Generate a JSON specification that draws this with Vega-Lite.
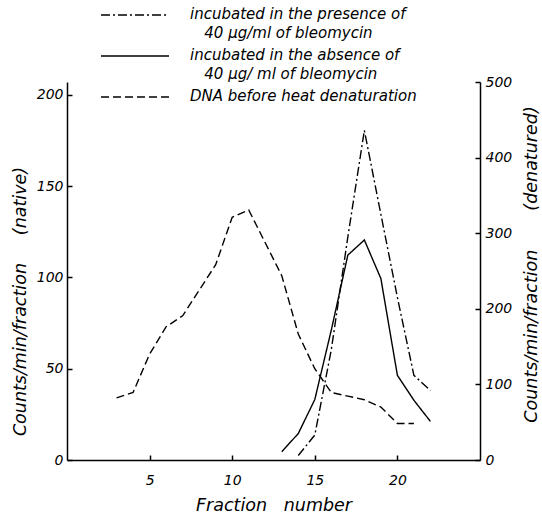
{
  "$schema": "https://vega.github.io/schema/vega-lite/v6.json",
  "width": 413,
  "height": 378,
  "autosize": "none",
  "padding": {"left": 67, "top": 82, "right": 62, "bottom": 57},
  "background": "white",
  "config": {
    "view": {"stroke": null},
    "font": "DejaVu Sans",
    "axis": {
      "domainColor": "black",
      "domainWidth": 1.5,
      "tickColor": "black",
      "tickWidth": 1.5,
      "tickSize": -5,
      "labelColor": "black",
      "labelFont": "DejaVu Sans",
      "labelFontStyle": "italic",
      "labelFontSize": 14,
      "titleColor": "black",
      "titleFont": "DejaVu Sans",
      "titleFontStyle": "italic",
      "titleFontWeight": "normal",
      "titleFontSize": 17.5,
      "grid": false
    }
  },
  "datasets": {
    "native": [
      {"fraction": 3, "count": 34, "series": "DNA before heat denaturation"},
      {"fraction": 4, "count": 37, "series": "DNA before heat denaturation"},
      {"fraction": 5, "count": 58, "series": "DNA before heat denaturation"},
      {"fraction": 6, "count": 73, "series": "DNA before heat denaturation"},
      {"fraction": 7, "count": 79, "series": "DNA before heat denaturation"},
      {"fraction": 8, "count": 93, "series": "DNA before heat denaturation"},
      {"fraction": 9, "count": 107, "series": "DNA before heat denaturation"},
      {"fraction": 10, "count": 133, "series": "DNA before heat denaturation"},
      {"fraction": 11, "count": 137, "series": "DNA before heat denaturation"},
      {"fraction": 12, "count": 119, "series": "DNA before heat denaturation"},
      {"fraction": 13, "count": 101, "series": "DNA before heat denaturation"},
      {"fraction": 14, "count": 69, "series": "DNA before heat denaturation"},
      {"fraction": 15, "count": 50, "series": "DNA before heat denaturation"},
      {"fraction": 16, "count": 37, "series": "DNA before heat denaturation"},
      {"fraction": 17, "count": 35, "series": "DNA before heat denaturation"},
      {"fraction": 18, "count": 33, "series": "DNA before heat denaturation"},
      {"fraction": 19, "count": 29, "series": "DNA before heat denaturation"},
      {"fraction": 20, "count": 20, "series": "DNA before heat denaturation"},
      {"fraction": 21, "count": 20, "series": "DNA before heat denaturation"}
    ],
    "denatured": [
      {"fraction": 14, "count": 6, "series": "presence"},
      {"fraction": 15, "count": 33, "series": "presence"},
      {"fraction": 16, "count": 146, "series": "presence"},
      {"fraction": 17, "count": 295, "series": "presence"},
      {"fraction": 18, "count": 436, "series": "presence"},
      {"fraction": 19, "count": 325, "series": "presence"},
      {"fraction": 20, "count": 215, "series": "presence"},
      {"fraction": 21, "count": 112, "series": "presence"},
      {"fraction": 22, "count": 92, "series": "presence"},
      {"fraction": 13, "count": 11, "series": "absence"},
      {"fraction": 14, "count": 35, "series": "absence"},
      {"fraction": 15, "count": 80, "series": "absence"},
      {"fraction": 16, "count": 172, "series": "absence"},
      {"fraction": 17, "count": 271, "series": "absence"},
      {"fraction": 18, "count": 291, "series": "absence"},
      {"fraction": 19, "count": 240, "series": "absence"},
      {"fraction": 20, "count": 112, "series": "absence"},
      {"fraction": 21, "count": 79, "series": "absence"},
      {"fraction": 22, "count": 51, "series": "absence"}
    ]
  },
  "layer": [
    {
      "data": {"name": "native"},
      "mark": {"type": "line", "color": "black", "strokeWidth": 1.4},
      "encoding": {
        "x": {
          "field": "fraction",
          "type": "quantitative",
          "scale": {"domain": [0, 25], "nice": false},
          "axis": {
            "values": [5, 10, 15, 20],
            "labelPadding": 18,
            "title": "Fraction\u00a0\u00a0\u00a0number",
            "titleY": 45,
            "titleBaseline": "middle"
          }
        },
        "y": {
          "field": "count",
          "type": "quantitative",
          "scale": {"domain": [0, 207.1], "nice": false},
          "axis": {
            "orient": "left",
            "values": [0, 50, 100, 150, 200],
            "labelPadding": 9,
            "title": "Counts/min/fraction\u00a0\u00a0\u00a0\u00a0\u00a0(native)",
            "titleX": -47,
            "titleY": 219,
            "titleAngle": -90,
            "titleAlign": "center",
            "titleBaseline": "middle"
          }
        },
        "strokeDash": {
          "field": "series",
          "type": "nominal",
          "scale": {
            "domain": ["presence", "absence", "DNA before heat denaturation"],
            "range": [[9, 3, 2, 3], [1, 0], [8, 4]]
          },
          "legend": {
            "orient": "none",
            "legendX": 33,
            "legendY": -82,
            "title": null,
            "symbolType": "stroke",
            "symbolSize": 4624,
            "symbolStrokeWidth": 1.4,
            "symbolStrokeColor": "black",
            "clipHeight": 30,
            "rowPadding": 0,
            "labelOffset": 20,
            "labelFont": "DejaVu Sans",
            "labelFontStyle": "italic",
            "labelFontSize": 15,
            "labelColor": "black",
            "labelLimit": 400,
            "labelBaseline": "top",
            "labelExpr": "datum.label == 'presence' ? ['incubated in the presence of', '\u200b\u00a0\u00a0\u00a040\u00a0\u00b5g/ml of bleomycin'] : datum.label == 'absence' ? ['incubated in the absence of', '\u200b\u00a0\u00a0\u00a040\u00a0\u00b5g/ ml of bleomycin'] : ['DNA before heat denaturation']",
            "encode": {
              "labels": {"update": {"dy": {"value": -8}, "lineHeight": {"value": 18.5}}}
            }
          }
        }
      }
    },
    {
      "data": {"name": "denatured"},
      "mark": {"type": "line", "color": "black", "strokeWidth": 1.4},
      "encoding": {
        "x": {"field": "fraction", "type": "quantitative"},
        "y": {
          "field": "count",
          "type": "quantitative",
          "scale": {"domain": [0, 500], "nice": false},
          "axis": {
            "orient": "right",
            "values": [0, 100, 200, 300, 400, 500],
            "labelPadding": 10,
            "title": "Counts/min/fraction\u00a0\u00a0\u00a0\u00a0\u00a0\u00a0\u00a0(denatured)",
            "titleX": 51,
            "titleY": 182,
            "titleAngle": -90,
            "titleAlign": "center",
            "titleBaseline": "middle"
          }
        },
        "strokeDash": {"field": "series", "type": "nominal"}
      }
    }
  ],
  "resolve": {"scale": {"y": "independent"}}
}
